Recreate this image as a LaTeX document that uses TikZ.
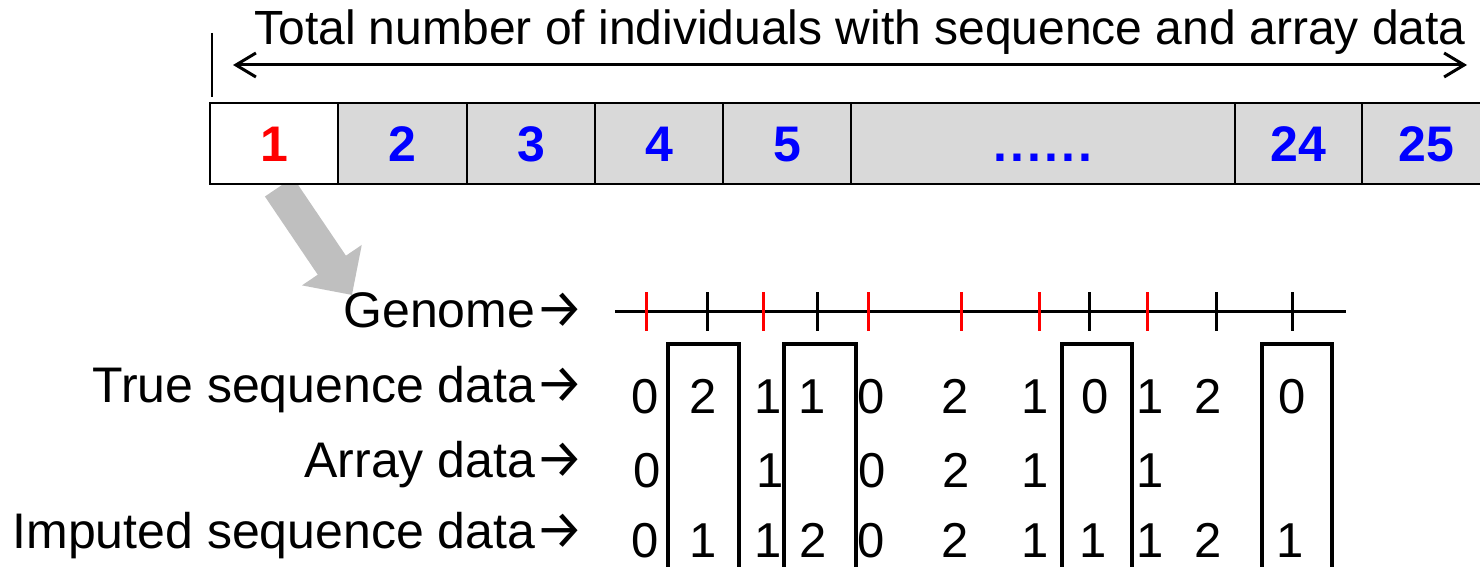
\documentclass[tikz,border=0pt]{standalone}
\usepackage{fontspec}
\setmainfont{Liberation Sans}
\newfontfamily\arrowfont{Fira Sans}
\usetikzlibrary{arrows.meta}
\definecolor{cellgray}{RGB}{217,217,217}
\definecolor{arrowgray}{RGB}{191,191,191}
\definecolor{idblue}{RGB}{0,0,255}
\definecolor{idred}{RGB}{255,0,0}
% thin pointing arrow set after each row label
\newcommand{\rowarrow}{{\arrowfont\fontsize{54}{54}\selectfont →}}

\begin{document}
\begin{tikzpicture}[x=1pt,y=-1pt,
  titletext/.style={font=\fontsize{48}{48}\selectfont, inner sep=0pt, anchor=base},
  cell/.style={draw, line width=2.5pt, fill=cellgray, minimum height=81pt,
    inner sep=0pt, text height=36pt, text depth=0pt,
    font=\fontsize{50}{50}\selectfont\bfseries, text=idblue},
  rowlabel/.style={font=\fontsize{50}{50}\selectfont, inner sep=0pt, anchor=base east},
  geno/.style={font=\fontsize{49}{49}\selectfont, inner sep=0pt, anchor=base},
  snpline/.style={line width=3pt},
  seqtick/.style={line width=3pt, black},
  arraytick/.style={line width=3pt, idred},
  window/.style={draw, line width=3.5pt},
  spanarrow/.style={line width=3pt,
    {Straight Barb[length=20pt,width=24pt]}-{Straight Barb[length=20pt,width=24pt]}},
  fatarrow/.style={line width=34pt, arrowgray, -{Triangle[length=36pt,width=70pt]}}
]
\useasboundingbox (0,0) rectangle (1480,567);

% pointer from the first individual down to the genome detail
\coordinate (ptrTail) at (279,187);
\coordinate (ptrTip) at (352,295);
\draw[fatarrow] (ptrTail) -- (ptrTip);

% heading and the span of all individuals
\node[titletext] (title) at (860,45) {Total number of individuals with sequence and array data};
\coordinate (markTop) at (212,33);
\coordinate (markBot) at (212,97);
\draw[line width=2.5pt] (markTop) -- (markBot);
\coordinate (spanL) at (233,65);
\coordinate (spanR) at (1467,65);
\draw[spanarrow] (spanL) -- (spanR);

% row of individuals
\node[cell, fill=white, text=idred, minimum width=128pt] (c1) at (274,143.5) {1};
\node[cell, minimum width=129pt] (c2) at (402.5,143.5) {2};
\node[cell, minimum width=128pt] (c3) at (531,143.5) {3};
\node[cell, minimum width=128pt] (c4) at (659,143.5) {4};
\node[cell, minimum width=128pt] (c5) at (787,143.5) {5};
\node[cell, minimum width=384pt] (cdots) at (1043,143.5)
  {.\kern3pt.\kern3pt.\kern3pt.\kern3pt.\kern3pt.};
\node[cell, minimum width=127pt] (c24) at (1298.5,143.5) {24};
\node[cell, minimum width=129pt] (c25) at (1426.5,143.5) {25};

% row labels
\node[rowlabel] (lgenome) at (584,327) {Genome\rowarrow};
\node[rowlabel] (ltrue) at (584,402) {True sequence data\rowarrow};
\node[rowlabel] (larray) at (584,477) {Array data\rowarrow};
\node[rowlabel] (limputed) at (584,548) {Imputed sequence data\rowarrow};

% genome axis with sequenced (black) and array (red) sites
\coordinate (axisL) at (615,311);
\coordinate (axisR) at (1346,311);
\draw[snpline] (axisL) -- (axisR);
\foreach \x in {646,763,868,961,1039,1147}
  \draw[arraytick] (\x,292) -- (\x,331);
\foreach \x in {707,817,1089,1216,1292}
  \draw[seqtick] (\x,292) -- (\x,331);

% sites that are missing from the array
\draw[window] (668,344) rectangle (739,590);
\draw[window] (784,344) rectangle (856,590);
\draw[window] (1062,344) rectangle (1132,590);
\draw[window] (1262,344) rectangle (1332,590);

% genotypes
\foreach \x/\g [count=\i] in {645/0,703/2,768/1,812/1,871/0,955/2,1035/1,1095/0,1150/1,1208/2,1292/0}
  \node[geno] (t\i) at (\x,413) {\g};
\foreach \x/\g [count=\i] in {647/0,770/1,872/0,956/2,1035/1,1150/1}
  \node[geno] (a\i) at (\x,487) {\g};
\foreach \x/\g [count=\i] in {645/0,703/1,768/1,813/2,871/0,955/2,1035/1,1093/1,1150/1,1208/2,1290/1}
  \node[geno] (m\i) at (\x,557) {\g};
\end{tikzpicture}
\end{document}
